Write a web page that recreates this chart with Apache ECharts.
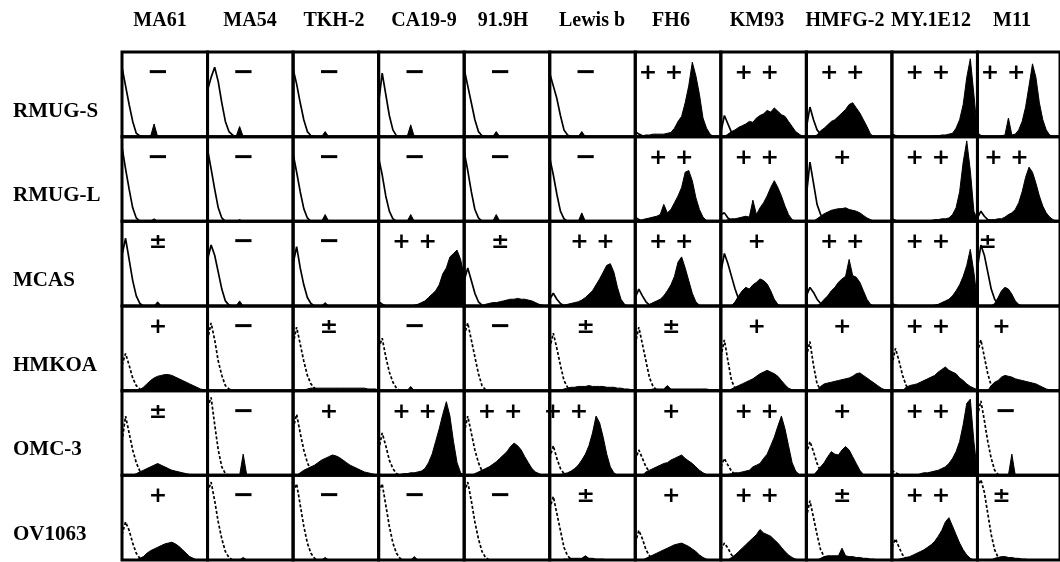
<!DOCTYPE html>
<html><head><meta charset="utf-8">
<script src="https://cdn.jsdelivr.net/npm/echarts@6/dist/echarts.min.js"></script>
<style>html,body{margin:0;padding:0;background:#fff}#c{width:1060px;height:562px}</style>
</head><body><div id="c"></div>
<script>
// ---------- labels ----------
const columns = ['MA61','MA54','TKH-2','CA19-9','91.9H','Lewis b','FH6','KM93','HMFG-2','MY.1E12','M11'];
const rows = ['RMUG-S','RMUG-L','MCAS','HMKOA','OMC-3','OV1063'];

// ---------- grades (reactivity) ----------
const grade_RMUG_S = ['−','−','−','−','−','−','+ +','+ +','+ +','+ +','+ +'];
const grade_RMUG_L = ['−','−','−','−','−','−','+ +','+ +','+','+ +','+ +'];
const grade_MCAS   = ['±','−','−','+ +','±','+ +','+ +','+','+ +','+ +','±'];
const grade_HMKOA  = ['+','−','±','−','−','±','±','+','+','+ +','+'];
const grade_OMC_3  = ['±','−','+','+ +','+ +','+ +','+','+ +','+','+ +','−'];
const grade_OV1063 = ['+','−','−','−','−','±','+','+ +','±','+ +','±'];

// ---------- stained (filled) histograms, counts per channel bin ----------
const fill_RMUG_S = [
 [0,0,0,0,0,0,0,0,0,15,0],
 [0,0,0,0,0,0,0,0,0,12,0],
 [0,0,0,0,0,0,0,0,0,6,0],
 [0,0,0,0,0,0,0,0,0,14,0],
 [0,0,0,0,0,0,0,0,0,6,0],
 [0,0,0,0,0,0,0,0,0,6,0],
 [0,0,1,2,2,3,3,3,3,4,5,10,18,24,40,60,88,72,50,22,10,3,0,0,0],
 [0,0,3,6,8,11,13,15,18,17,22,25,27,31,29,34,30,26,24,18,12,6,3,0,0],
 [0,0,0,2,7,10,14,18,20,24,28,32,38,40,34,28,20,12,3,0],
 [0,0,0,0,0,0,0,0,0,0,0,0,1,1,2,2,3,4,10,20,38,70,92,50,5],
 [0,0,0,0,0,0,0,1,2,22,2,3,8,18,35,60,86,70,40,20,8,2,0,0,0]
];
const fill_RMUG_L = [
 [0,0,0,0,0,0,0,0,0,3,0],
 [0,0,0,0,0,0,0,0,0,2,0],
 [0,0,0,0,0,0,0,0,0,8,0],
 [0,0,0,0,0,0,0,0,0,8,0],
 [0,0,0,0,0,0,0,0,0,8,0],
 [0,0,0,0,0,0,0,0,0,10,0],
 [0,0,2,3,4,5,6,8,20,10,14,22,30,40,58,60,48,28,14,5,1,0],
 [0,0,2,3,3,4,5,6,5,25,8,16,22,30,40,48,40,30,18,8,2,0],
 [0,0,0,3,6,9,11,13,14,15,15,16,14,13,12,10,7,4,2,0],
 [0,0,0,0,0,0,0,0,0,0,1,1,2,2,3,3,4,8,16,35,70,95,60,12,2],
 [0,0,0,2,2,2,3,3,5,8,10,14,22,35,52,64,58,45,30,18,10,5,2,0,0]
];
const fill_MCAS = [
 [0,0,0,0,0,0,0,0,0,0,5,0],
 [0,0,0,0,0,0,0,0,0,6,0],
 [0,0,0,0,0,0,0,0,0,4,0],
 [0,0,0,0,0,0,0,0,0,0,1,2,4,6,10,14,18,25,38,45,58,62,66,55,35],
 [0,0,0,0,0,0,2,3,4,4,5,6,7,8,8,9,8,8,7,6,4,2,1,0],
 [0,0,0,0,1,2,3,4,5,7,10,14,18,25,32,40,48,50,40,22,8,2,0],
 [0,0,0,0,2,4,6,8,12,18,25,35,52,58,45,30,15,5,1,0],
 [0,0,0,0,5,12,18,22,20,25,28,32,30,26,18,8,2,0],
 [0,0,0,0,3,8,12,18,22,28,32,35,55,36,34,28,18,8,2,0],
 [0,0,0,0,0,0,0,0,0,0,0,0,1,2,4,6,8,12,18,25,35,48,67,40,5],
 [0,0,0,0,0,3,10,18,22,20,14,6,2,0]
];
const fill_HMKOA = [
 [0,0,0,0,0,1,4,8,12,15,17,18,19,19,18,16,14,12,10,8,6,4,2,1,0],
 [0,0],
 [0,0,0,0,2,3,3,3,3,3,3,3,3,3,3,3,3,3,3,3,3,2,2,2,1],
 [0,0,0,0,0,0,0,0,0,5,0],
 [0,0],
 [0,0,0,0,2,3,4,4,5,5,5,6,5,5,5,5,4,4,4,3,3,2,2,1,1],
 [0,0,0,0,1,2,2,2,2,6,2,2,2,2,2,2,2,2,2,2,2,1,1,1,0],
 [0,0,0,2,4,6,8,10,12,14,17,20,22,24,22,20,17,12,7,3,1,0],
 [0,0,0,0,5,8,9,10,11,12,13,14,15,17,20,21,18,15,12,9,6,3,1,0],
 [0,0,0,0,4,6,7,8,10,12,14,16,18,22,25,28,24,22,20,15,12,8,5,3,1],
 [0,0,0,0,6,10,12,16,18,17,16,14,13,12,11,10,9,8,6,4,2,1,0]
];
const fill_OMC_3 = [
 [0,0,0,0,2,4,6,8,10,12,14,12,10,8,6,5,4,3,2,1,0],
 [0,0,0,0,0,0,0,0,0,0,25,0],
 [0,0,3,6,8,10,12,15,18,20,22,24,23,21,18,15,12,10,8,6,4,3,2,1,0],
 [0,0,0,0,0,1,1,2,2,3,3,4,5,8,15,25,40,55,72,87,70,40,15,3,0],
 [0,0,0,2,4,6,8,10,13,16,20,24,28,34,38,35,30,22,15,8,4,2,0],
 [0,0,0,1,2,3,5,8,12,18,25,35,50,70,62,45,25,10,3,0],
 [0,0,0,4,6,8,10,12,14,15,18,20,22,24,20,17,14,10,6,3,1,0],
 [0,0,1,2,3,3,4,5,6,10,12,14,20,25,35,45,58,70,55,35,15,5,1,0],
 [0,0,0,5,10,15,22,28,25,24,30,34,30,22,14,6,1,0],
 [0,0,0,0,0,0,0,0,2,3,3,4,5,6,8,10,14,20,28,40,60,85,90,40,3],
 [0,0,0,0,0,0,0,0,0,0,25,0]
];
const fill_OV1063 = [
 [0,0,0,0,0,2,4,8,11,13,15,17,19,20,21,19,16,12,8,4,2,0],
 [0,0,0,0,0,0,0,0,0,0,3,0],
 [0,0,0,0,0,0,0,0,0,3,0],
 [0,0,0,0,0,0,0,0,0,0,4,0],
 [0,0],
 [0,0,0,0,1,1,2,2,2,2,5,2,2,1,1,1,0],
 [0,0,0,2,4,6,8,10,12,14,16,18,19,20,18,16,13,10,6,3,1,0],
 [0,0,0,3,6,10,14,18,22,26,30,36,32,30,28,24,20,15,10,6,3,1,0],
 [0,0,0,0,2,4,5,5,5,5,14,5,4,4,3,3,2,2,1,1,0],
 [0,0,1,2,3,4,6,8,10,12,15,18,22,28,35,45,50,40,30,20,12,6,2,0],
 [0,0,0,0,0,2,3,4,4,3,3,2,2,1,1,0]
];

// ---------- control (open) histograms ----------
const ctrl_RMUG_S = [[82,60,38,18,4,1,0],[55,70,82,65,40,18,6,2,0],[80,62,40,20,6,1,0],[40,75,50,25,8,1,0],[80,60,40,20,6,1,0],[75,60,45,25,8,2,0],[6,3,1,0],[5,25,15,5,2,0],[10,35,20,8,3,0],[3,1,0],[4,1,0]];
const ctrl_RMUG_L = [[88,62,38,16,4,0],[85,62,38,16,4,0],[80,58,35,15,4,0],[75,55,30,12,3,0],[82,60,35,14,4,0],[75,55,32,12,3,0],[5,2,0],[8,10,4,1,0],[30,70,45,20,8,2,0],[3,1,0],[4,12,6,2,0]];
const ctrl_MCAS   = [[60,80,55,30,12,3,0],[55,72,60,40,20,6,1,0],[50,70,45,25,10,3,0],[5,2,0],[30,45,30,15,5,1,0],[8,15,8,3,0],[10,20,12,5,1,0],[40,62,50,35,20,8,2,0],[12,22,16,8,3,0],[3,1,0],[45,72,60,40,20,8,2,0]];
const ctrl_HMKOA  = [[30,44,30,15,6,2,0],[60,80,60,35,18,6,2,0],[55,75,55,35,18,8,3,0],[50,62,40,22,10,3,0],[65,80,60,40,20,6,1,0],[50,68,50,30,12,4,0],[55,75,55,35,15,5,1,0],[40,60,35,12,3,0],[40,58,30,8,1,0],[30,50,35,18,6,1,0],[45,60,40,20,6,1,0]];
const ctrl_OMC_3  = [[40,70,50,30,15,5,1,0],[80,92,60,30,10,2,0],[55,72,50,30,15,6,2,0],[30,50,35,18,8,2,0],[50,70,50,30,15,5,1,0],[20,35,20,8,2,0],[18,30,20,10,4,1,0],[10,20,12,5,1,0],[25,40,28,14,5,1,0],[6,3,1,0],[70,88,65,40,20,6,1,0]];
const ctrl_OV1063 = [[30,45,35,20,8,2,0],[80,92,70,45,25,10,3,0],[80,90,65,40,20,8,2,0],[80,90,65,40,20,8,2,0],[80,92,70,45,25,10,3,0],[60,75,55,35,15,5,1,0],[20,35,25,12,5,1,0],[12,20,14,6,2,0],[50,70,50,30,12,4,1,0],[15,25,15,6,2,0],[85,95,80,55,30,12,3,0]];

const fills  = [fill_RMUG_S, fill_RMUG_L, fill_MCAS, fill_HMKOA, fill_OMC_3, fill_OV1063];
const ctrls  = [ctrl_RMUG_S, ctrl_RMUG_L, ctrl_MCAS, ctrl_HMKOA, ctrl_OMC_3, ctrl_OV1063];
const grades = [grade_RMUG_S, grade_RMUG_L, grade_MCAS, grade_HMKOA, grade_OMC_3, grade_OV1063];

// ---------- layout ----------
const L = 122, T = 52, R = 1063, B = 560;
const CW = (R - L) / columns.length, RH = (B - T) / rows.length;
const headerX = [160,250,334,424,503,592,671,757,845,931,1012];
const gradePos = {'0,6':0.3,'0,10':0.3,'1,10':0.34,'2,10':0.12,'2,5':0.5,'3,10':0.28,'4,5':0.19,'4,10':0.33,'5,10':0.28};

const grid = [], xAxis = [], yAxis = [], series = [], graphic = [];
rows.forEach((rn, r) => {
  columns.forEach((cn, c) => {
    const i = r * columns.length + c;
    const left = L + c * CW, top = T + r * RH;
    grid.push({left: left, top: top, width: CW, height: RH, show: true,
      borderColor: '#000', borderWidth: 3, backgroundColor: 'transparent'});
    xAxis.push({type: 'value', gridIndex: i, min: 0, max: 24, show: false});
    yAxis.push({type: 'value', gridIndex: i, min: 0, max: 100, show: false});
    series.push({type: 'line', xAxisIndex: i, yAxisIndex: i, symbol: 'none', silent: true,
      data: fills[r][c].map((v, k) => [k, v]),
      lineStyle: {color: '#000', width: 1}, areaStyle: {color: '#000', opacity: 1}, z: 2});
    series.push({type: 'line', xAxisIndex: i, yAxisIndex: i, symbol: 'none', silent: true,
      data: ctrls[r][c].map((v, k) => [k, v]),
      lineStyle: {color: '#000', width: 1.7, type: r >= 3 ? [3, 2] : 'solid'}, z: 3});
    const f = gradePos[r + ',' + c] !== undefined ? gradePos[r + ',' + c] : 0.42;
    const g = grades[r][c];
    const fs = g === '−' ? 26 : 22;
    graphic.push({type: 'text', x: left + f * CW, y: top + 0.25 * RH, z: 10,
      style: {text: g, font: 'bold ' + fs + 'px "DejaVu Sans"', fill: '#000',
        textAlign: 'center', textVerticalAlign: 'middle', align: 'center', verticalAlign: 'middle'}});
  });
  graphic.push({type: 'text', x: 13, y: T + r * RH + 0.7 * RH, z: 10,
    style: {text: rn, font: 'bold 21px "Liberation Serif"', fill: '#000',
      textAlign: 'left', textVerticalAlign: 'middle', align: 'left', verticalAlign: 'middle'}});
});
columns.forEach((cn, c) => {
  graphic.push({type: 'text', x: headerX[c], y: 21, z: 10,
    style: {text: cn, font: 'bold 20px "Liberation Serif"', fill: '#000',
      textAlign: 'center', textVerticalAlign: 'middle', align: 'center', verticalAlign: 'middle'}});
});

const chart = echarts.init(document.getElementById('c'), null, {renderer: 'canvas'});
chart.setOption({animation: false, backgroundColor: '#fff', grid, xAxis, yAxis, series, graphic});
</script></body></html>
